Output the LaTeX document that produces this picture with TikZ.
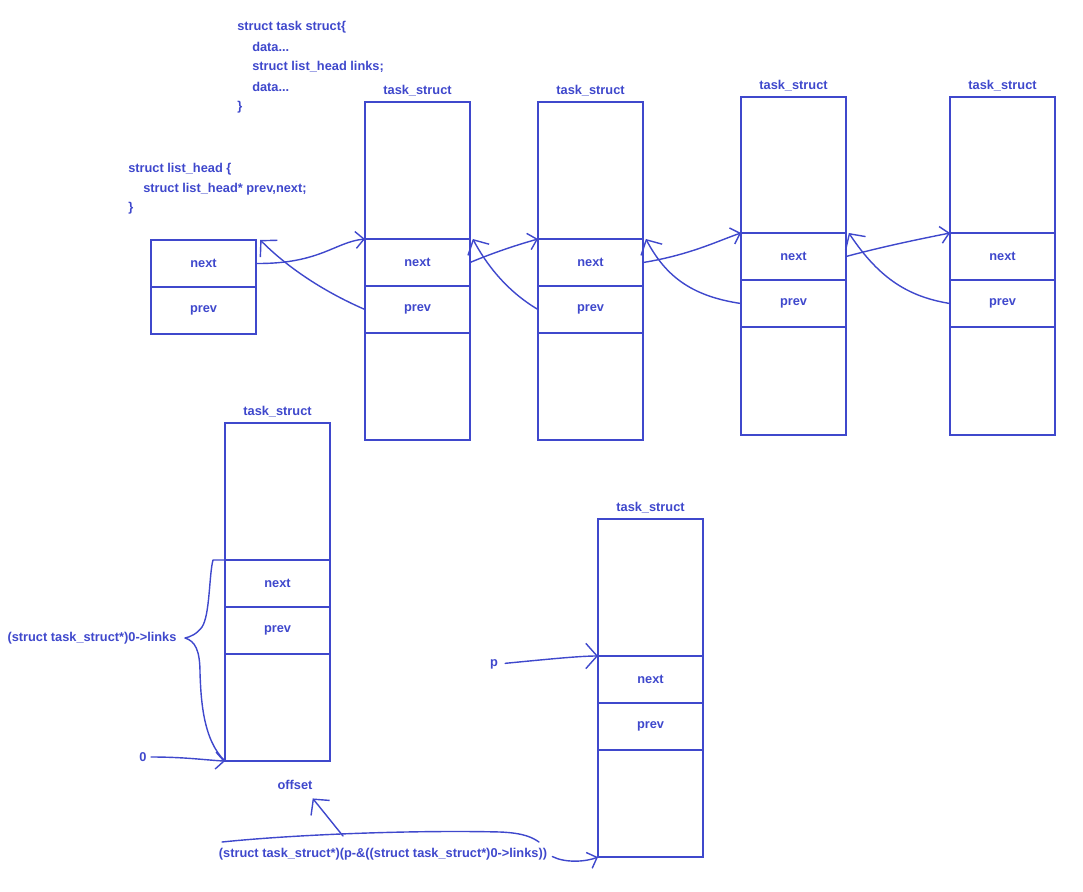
\documentclass[tikz,border=0pt]{standalone}
\usepackage{fontspec}
\newfontfamily\diagfont{Liberation Sans}
\usetikzlibrary{positioning,arrows.meta,calc}
\definecolor{pen}{RGB}{63,72,204}
\newcommand\lblsize{\diagfont\bfseries\fontsize{9.1}{10}\selectfont}

\tikzset{
	taskbox/.style={draw=pen, line width=1.3pt, minimum width=2.625cm, minimum height=8.45cm, inner sep=0pt, outer sep=0pt, anchor=north west},
	cell/.style={draw=pen, line width=1.3pt, minimum width=2.625cm, minimum height=1.175cm, inner sep=0pt, outer sep=0pt, anchor=north west, text=pen, font=\lblsize},
	title/.style={text=pen, font=\lblsize, inner sep=1pt},
	code/.style={text=pen, font=\lblsize, inner sep=0pt, anchor=west},
	note/.style={text=pen, font=\lblsize, inner sep=0pt},
	hand/.style={draw=pen, line width=1pt, line cap=round, line join=round},
	link/.style={hand, -{Straight Barb[length=6pt,width=12pt]}},
	backlink/.style={hand, -{Straight Barb[length=8pt,width=17pt]}},
	biglink/.style={hand, -{Straight Barb[length=8pt,width=18pt]}}
}

\begin{document}
\begin{tikzpicture}[x=0.025cm,y=-0.025cm]
		%%%%% START %%%%%
		\useasboundingbox (0,0) rectangle (1083,892);
		
		% the two struct declarations
		\node[code] (c1) at (237,27) {struct task struct\{};
		\node[code] (c2) at (252,47) {data...};
		\node[code] (c3) at (252,67) {struct list\_head links;};
		\node[code] (c4) at (252,87) {data...};
		\node[code] (c5) at (237,107) {\}};
		
		\node[code] (h1) at (128,169) {struct list\_head \{};
		\node[code] (h2) at (143,189) {struct list\_head* prev,next;};
		\node[code] (h3) at (128,208) {\}};
		
		% list head
		\node[cell] (lhn) at (151,240) {next};
		\node[cell, below=0pt of lhn] (lhp) {prev};
		
		% top row of task_struct
		\node[taskbox] (t1) at (365,102) {};
		\node[title, above=3pt of t1] {task\_struct};
		\node[cell] (t1n) at (365,239) {next};
		\node[cell, below=0pt of t1n] (t1p) {prev};
		
		\node[taskbox] (t2) at (538,102) {};
		\node[title, above=3pt of t2] {task\_struct};
		\node[cell] (t2n) at (538,239) {next};
		\node[cell, below=0pt of t2n] (t2p) {prev};
		
		\node[taskbox] (t3) at (741,97) {};
		\node[title, above=3pt of t3] {task\_struct};
		\node[cell] (t3n) at (741,233) {next};
		\node[cell, below=0pt of t3n] (t3p) {prev};
		
		\node[taskbox] (t4) at (950,97) {};
		\node[title, above=3pt of t4] {task\_struct};
		\node[cell] (t4n) at (950,233) {next};
		\node[cell, below=0pt of t4n] (t4p) {prev};
		
		% next / prev links
		\draw[link] (lhn.east) .. controls (320,264) and (335,242) .. (t1n.north west);
		\draw[backlink] (t1p.west) .. controls (320,290) and (285,265) .. ([xshift=3pt]lhn.north east);
		\draw[link] (t1n.east) .. controls (495,252) and (520,244) .. (t2n.north west);
		\draw[backlink] (t2p.west) .. controls (505,290) and (485,262) .. ([xshift=2pt]t1n.north east);
		\draw[link] (t2n.east) .. controls (690,255) and (720,240) .. (t3n.north west);
		\draw[backlink] (t3p.west) .. controls (690,296) and (665,275) .. ([xshift=2pt]t2n.north east);
		\draw[link] (t3n.east) .. controls (885,246) and (925,238) .. (t4n.north west);
		\draw[backlink] (t4p.west) .. controls (910,297) and (880,280) .. ([xshift=2pt]t3n.north east);
		
		% bottom left
		\node[taskbox] (b1) at (225,423) {};
		\node[title, above=3pt of b1] {task\_struct};
		\node[cell] (b1n) at (225,560) {next};
		\node[cell, below=0pt of b1n] (b1p) {prev};
		
		\node[note] (lnk) at (92,638) {(struct task\_struct*)0->links};
		\node[note] (zero) at (143,757) {0};
		
		\draw[hand] (b1n.north west) -- (213,560) .. controls (209,575) and (210,615) .. (202,627)
			.. controls (197,634) and (190,637) .. (185,638)
			.. controls (195,641) and (200,650) .. (200,673)
			.. controls (201,700) and (203,740) .. (b1.south west);
		\draw[link, shorten <=3pt] (zero.east) .. controls (185,757) and (205,760) .. (b1.south west);
		
		% bottom right
		\node[taskbox] (b2) at (598,519) {};
		\node[title, above=3pt of b2] {task\_struct};
		\node[cell] (b2n) at (598,656) {next};
		\node[cell, below=0pt of b2n] (b2p) {prev};
		
		\node[note] (pl) at (494,664) {p};
		\draw[biglink, shorten <=5pt] (pl.east) .. controls (550,659) and (580,656) .. (b2n.north west);
		
		\node[note] (off) at (295,785) {offset};
		\node[note] (expr) at (383,854) {(struct task\_struct*)(p-\&((struct task\_struct*)0->links))};
		
		\draw[hand] (222,842) .. controls (300,834) and (420,830) .. (500,832) .. controls (525,833) and (533,838) .. (539,842);
		\coordinate (ofs) at (343,836);
		\draw[backlink] (ofs) -- ([yshift=-6pt]off.south east);
		\draw[link, shorten <=4pt] (expr.east) .. controls (565,863) and (585,862) .. (b2.south west);
		
		%%%%% END %%%%%
	\end{tikzpicture}
\end{document}
